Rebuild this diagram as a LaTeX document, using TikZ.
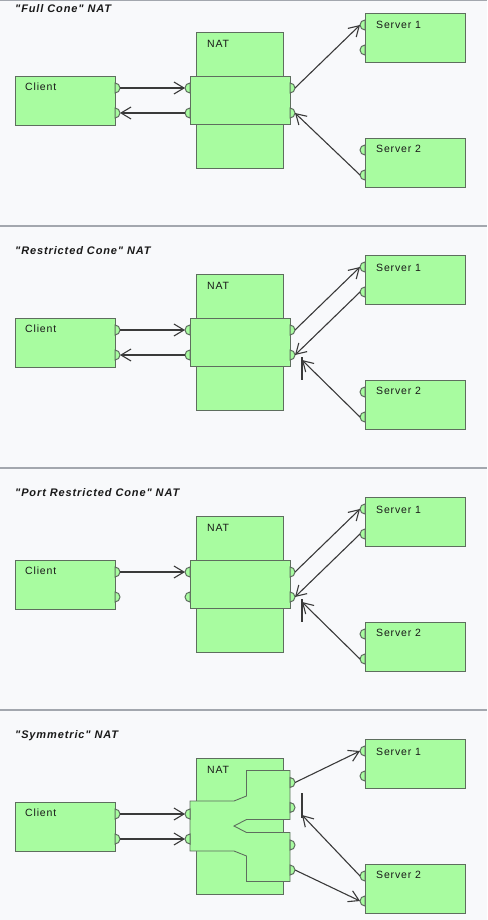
\documentclass[tikz,border=0pt]{standalone}
\usepackage{fontspec}
\setmainfont{Liberation Sans}
\newfontfamily\lblfont[LetterSpace=8]{Liberation Sans}
\usetikzlibrary{arrows.meta}
\definecolor{bgc}{HTML}{F8F9FB}
\definecolor{boxfill}{HTML}{A8FCA0}
\definecolor{boxline}{HTML}{5E6E5E}
\definecolor{arrc}{HTML}{3A3A3A}
\definecolor{sepc}{HTML}{A3A7AE}
\tikzset{
  box/.style={draw=boxline, fill=boxfill, line width=0.9pt, inner sep=0pt, outer sep=0pt, anchor=north west},
  shapeline/.style={draw=boxline, fill=boxfill, line width=0.9pt},
  lbl/.style={font=\lblfont\fontsize{10.5}{12}\selectfont, text=black!90, inner sep=0pt, anchor=base west},
  ttl/.style={font=\lblfont\fontsize{11}{13}\selectfont\bfseries\itshape, text=black!90, inner sep=0pt, anchor=base west},
  port/.style={draw=boxline, fill=boxfill, line width=1pt},
  arr/.style={draw=arrc, line width=1.1pt, -{Straight Barb[length=10pt,width=12pt,line width=1.1pt]}},
  barline/.style={draw=arrc, line width=1.3pt},
  sepline/.style={draw=sepc, line width=2pt},
}
\newcommand\portR[3]{\path[port] (#2,#3-5) arc[start angle=90,end angle=-90,radius=5pt] -- cycle; \coordinate (#1) at (#2+5,#3);}
\newcommand\portL[3]{\path[port] (#2,#3-5) arc[start angle=90,end angle=270,radius=5pt] -- cycle; \coordinate (#1) at (#2-5,#3);}
\newcommand\commonparts[1]{%
  \node[ttl] (title) at (15,12.5) {#1};
  \node[box, minimum width=100pt, minimum height=49pt] (client) at (15,76) {};
  \node[lbl] (clientlbl) at (25,90.5) {Client};
  \portR{c1}{115}{88}\portR{c2}{115}{113}
  \node[box, minimum width=100pt, minimum height=49pt] (s1) at (365,13) {};
  \node[lbl] (s1lbl) at (376,29) {Server 1};
  \portL{a1}{365}{25}\portL{a2}{365}{50}
  \node[box, minimum width=100pt, minimum height=49pt] (s2) at (365,138) {};
  \node[lbl] (s2lbl) at (376,152.5) {Server 2};
  \portL{b1}{365}{150}\portL{b2}{365}{175}
}
\newcommand\plainnat{%
  \node[box, minimum width=87pt, minimum height=136pt] (nat) at (196,32) {};
  \node[lbl] (natlbl) at (207,47.5) {NAT};
  \node[box, minimum width=100pt, minimum height=48pt] (natin) at (190,76) {};
  \portL{nl1}{190}{88}\portL{nl2}{190}{113}
  \portR{nr1}{290}{88}\portR{nr2}{290}{113}
}
\begin{document}
\begin{tikzpicture}[x=1pt,y=-1pt]
\useasboundingbox (0,0) rectangle (487,920);
\fill[bgc] (0,0) rectangle (487,920);
\draw[draw=sepc, line width=1pt] (0,0.5) -- (487,0.5);
\draw[sepline] (0,225.5) -- (487,225.5);
\draw[sepline] (0,467.5) -- (487,467.5);
\draw[sepline] (0,709.5) -- (487,709.5);

% Panel 1
\begin{scope}[name prefix=p1-]
  \commonparts{"Full Cone" NAT}
  \plainnat
  \draw[arr] (c1) -- (nl1);
  \draw[arr] (nl2) -- (c2);
  \draw[arr] (nr1) -- (a1);
  \draw[arr] (b2) -- (nr2);
\end{scope}

% Panel 2
\begin{scope}[shift={(0,242)}, name prefix=p2-]
  \commonparts{"Restricted Cone" NAT}
  \plainnat
  \draw[arr] (c1) -- (nl1);
  \draw[arr] (nl2) -- (c2);
  \draw[arr] (nr1) -- (a1);
  \draw[arr] (a2) -- (nr2);
  \coordinate (blk) at (302,118);
  \coordinate (bt) at (302,115);
  \coordinate (bb) at (302,138);
  \draw[arr] (b2) -- (blk);
  \draw[barline] (bt) -- (bb);
\end{scope}

% Panel 3
\begin{scope}[shift={(0,484)}, name prefix=p3-]
  \commonparts{"Port Restricted Cone" NAT}
  \plainnat
  \draw[arr] (c1) -- (nl1);
  \draw[arr] (nr1) -- (a1);
  \draw[arr] (a2) -- (nr2);
  \coordinate (blk) at (302,118);
  \coordinate (bt) at (302,115);
  \coordinate (bb) at (302,138);
  \draw[arr] (b2) -- (blk);
  \draw[barline] (bt) -- (bb);
\end{scope}

% Panel 4
\begin{scope}[shift={(0,726)}, name prefix=p4-]
  \commonparts{"Symmetric" NAT}
  \node[box, minimum width=87pt, minimum height=136pt] (nat) at (196,32) {};
  \node[lbl] (natlbl) at (207,47.5) {NAT};
  \path[shapeline] (190,75) -- (234,75) -- (246.5,70) -- (246.5,44.5) -- (290,44.5) -- (290,93.5)
     -- (246.5,93.5) -- (234,100) -- (246.5,106.5) -- (290,106.5) -- (290,155.5) -- (246.5,155.5)
     -- (246.5,130) -- (234,125) -- (190,125) -- cycle;
  \portL{nl1}{190}{88}\portL{nl2}{190}{113}
  \portR{nr1}{290}{56.5}\portR{nr2}{290}{81.5}
  \portR{nr3}{290}{119}\portR{nr4}{290}{144}
  \draw[arr] (c1) -- (nl1);
  \draw[arr] (c2) -- (nl2);
  \draw[arr] (nr1) -- (a1);
  \draw[arr] (nr4) -- (b2);
  \coordinate (blk) at (302,89);
  \coordinate (bt) at (302,67);
  \coordinate (bb) at (302,92);
  \draw[arr] (b1) -- (blk);
  \draw[barline] (bt) -- (bb);
\end{scope}
\end{tikzpicture}
\end{document}
